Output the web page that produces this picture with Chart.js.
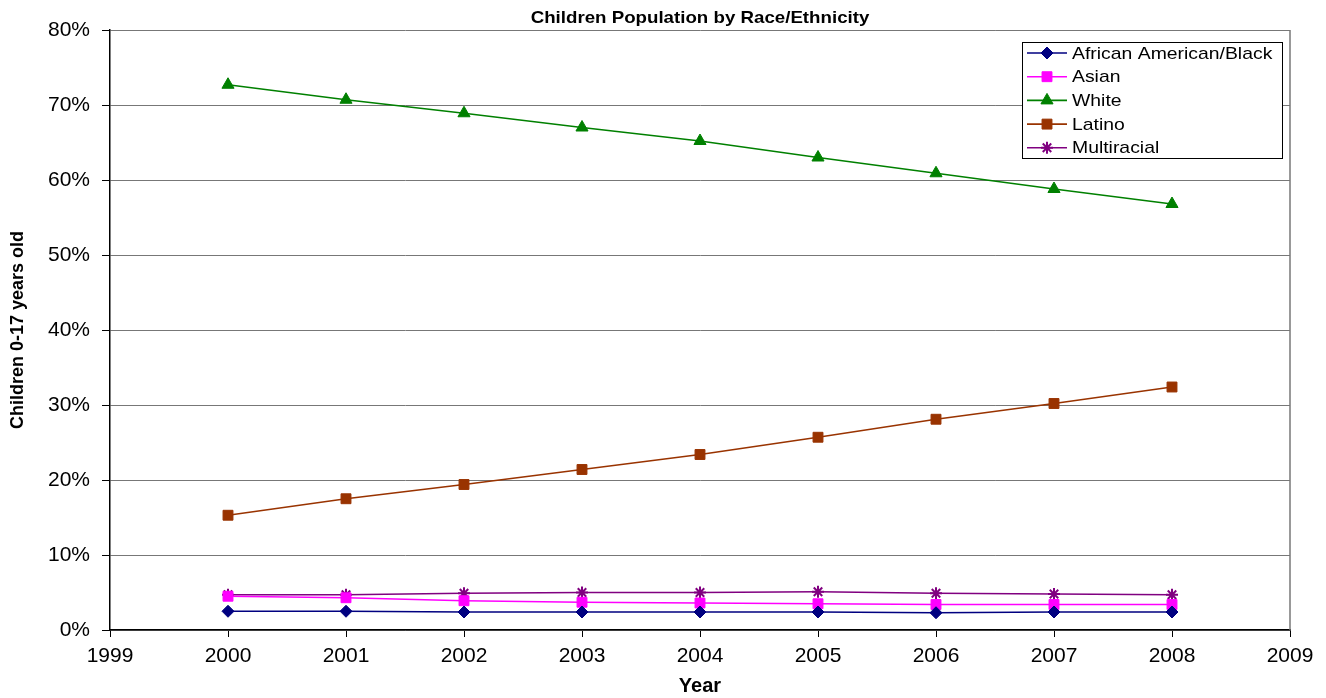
<!DOCTYPE html>
<html>
<head>
<meta charset="utf-8">
<script src="https://cdn.jsdelivr.net/npm/chart.js@4"></script>
<style>
  html, body { margin: 0; padding: 0; background: #fff; }
  #wrap { width: 1326px; height: 698px; }
</style>
</head>
<body>
<div id="wrap"><canvas id="lineChart" width="1326" height="698"></canvas></div>
<script>
// values (percent of children 0-17)
var years = [2000, 2001, 2002, 2003, 2004, 2005, 2006, 2007, 2008];
var black = [2.5, 2.5, 2.4, 2.4, 2.4, 2.4, 2.3, 2.4, 2.4];
var asian = [4.5, 4.3, 3.9, 3.7, 3.6, 3.5, 3.4, 3.4, 3.4];
var white = [72.7, 70.7, 68.9, 67.0, 65.2, 63.0, 60.9, 58.8, 56.8];
var latino = [15.3, 17.5, 19.4, 21.4, 23.4, 25.7, 28.1, 30.2, 32.4];
var multi = [4.7, 4.7, 4.9, 5.0, 5.0, 5.1, 4.9, 4.8, 4.7];

var chartTitle = 'Children Population by Race/Ethnicity';
var FONT = '"Liberation Sans", Arial, sans-serif';

function pts(vals) {
    return years.map(function (y, i) { return { x: y, y: vals[i] }; });
}

function series(label, vals, color, style, radius) {
    return {
        label: label,
        data: pts(vals),
        borderColor: color,
        backgroundColor: color,
        borderWidth: 1.6,
        pointStyle: style,
        pointRadius: radius,
        pointHoverRadius: radius,
        pointBorderWidth: style === 'star' ? 2 : 1,
        tension: 0,
    };
}

var datasets = [
    series('African American/Black', black, '#000080', 'rectRot', 6),
    series('Asian', asian, '#FF00FF', 'rect', 7),
    series('White', white, '#008000', 'triangle', 7),
    series('Latino', latino, '#993300', 'rect', 7),
    series('Multiracial', multi, '#800080', 'star', 6),
];

// text drawn a little wider than the font, like the original
function wideText(ctx, text, x, y, sx) {
    ctx.save();
    ctx.translate(x, y);
    ctx.scale(sx, 1);
    ctx.fillText(text, 0, 0);
    ctx.restore();
}

// title, right border and legend box
var decor = {
    id: 'decor',
    afterDraw: function (chart) {
        var ctx = chart.ctx;
        var a = chart.chartArea;
        ctx.save();
        ctx.strokeStyle = '#777';
        ctx.lineWidth = 1.5;
        ctx.beginPath();
        ctx.moveTo(a.right, a.top);
        ctx.lineTo(a.right, a.bottom);
        ctx.stroke();

        ctx.fillStyle = '#000';
        ctx.font = 'bold 17px ' + FONT;
        ctx.textAlign = 'center';
        ctx.textBaseline = 'middle';
        wideText(ctx, chartTitle, (a.left + a.right) / 2, 18, 1.1);

        // legend
        var bx = 1022, by = 42, bw = 260, bh = 116;
        ctx.fillStyle = '#fff';
        ctx.fillRect(bx, by, bw, bh);
        ctx.strokeStyle = '#000';
        ctx.lineWidth = 1;
        ctx.strokeRect(bx + 0.5, by + 0.5, bw, bh);
        ctx.font = '17px ' + FONT;
        ctx.textAlign = 'left';
        chart.data.datasets.forEach(function (ds, i) {
            var y = 53 + i * 23.7;
            ctx.strokeStyle = ds.borderColor;
            ctx.lineWidth = 1.6;
            ctx.beginPath();
            ctx.moveTo(1027, y);
            ctx.lineTo(1067, y);
            ctx.stroke();
            ctx.fillStyle = ds.backgroundColor;
            ctx.lineWidth = ds.pointBorderWidth;
            Chart.helpers.drawPoint(ctx, {
                pointStyle: ds.pointStyle,
                radius: ds.pointRadius,
                rotation: 0,
                borderWidth: ds.pointBorderWidth
            }, 1047, y);
            ctx.fillStyle = '#000';
            wideText(ctx, ds.label, 1072, y + 1, 1.14);
        });
        ctx.restore();
    }
};

var lineConfig = {
    type: 'line',
    data: { datasets: datasets },
    options: {
        responsive: false,
        animation: false,
        layout: { padding: { left: 0, top: 30, right: 36, bottom: 0 } },
        plugins: {
            legend: { display: false },
            title: { display: false },
            tooltip: { enabled: false },
        },
        scales: {
            x: {
                type: 'linear',
                min: 1999,
                max: 2009,
                afterFit: function (s) { s.height = 68; },
                ticks: {
                    stepSize: 1,
                    autoSkip: false,
                    maxRotation: 0,
                    padding: 7,
                    color: '#000',
                    font: { family: FONT, size: 21 },
                    callback: function (v) { return String(v); },
                },
                grid: {
                    drawOnChartArea: false,
                    drawTicks: true,
                    tickLength: 7,
                    tickColor: '#000',
                },
                border: { color: '#000', width: 1.5 },
                title: {
                    display: true,
                    text: 'Year',
                    color: '#000',
                    font: { family: FONT, size: 20, weight: 'bold' },
                    padding: { top: 0, bottom: 0 },
                },
            },
            y: {
                min: 0,
                max: 80,
                afterFit: function (s) { s.width = 110; },
                ticks: {
                    stepSize: 10,
                    padding: 12,
                    color: '#000',
                    font: { family: FONT, size: 21 },
                    callback: function (v) { return v + '%'; },
                },
                grid: {
                    color: '#777',
                    lineWidth: 1,
                    drawTicks: true,
                    tickLength: 8,
                    tickColor: '#000',
                },
                border: { color: '#000', width: 1.5 },
                title: {
                    display: true,
                    text: 'Children 0-17 years old',
                    color: '#000',
                    font: { family: FONT, size: 18, weight: 'bold' },
                    padding: { top: 7, bottom: 0 },
                },
            },
        },
    },
    plugins: [decor],
};

var lineChart = new Chart(
    document.getElementById('lineChart'),
    lineConfig,
);
</script>
</body>
</html>
